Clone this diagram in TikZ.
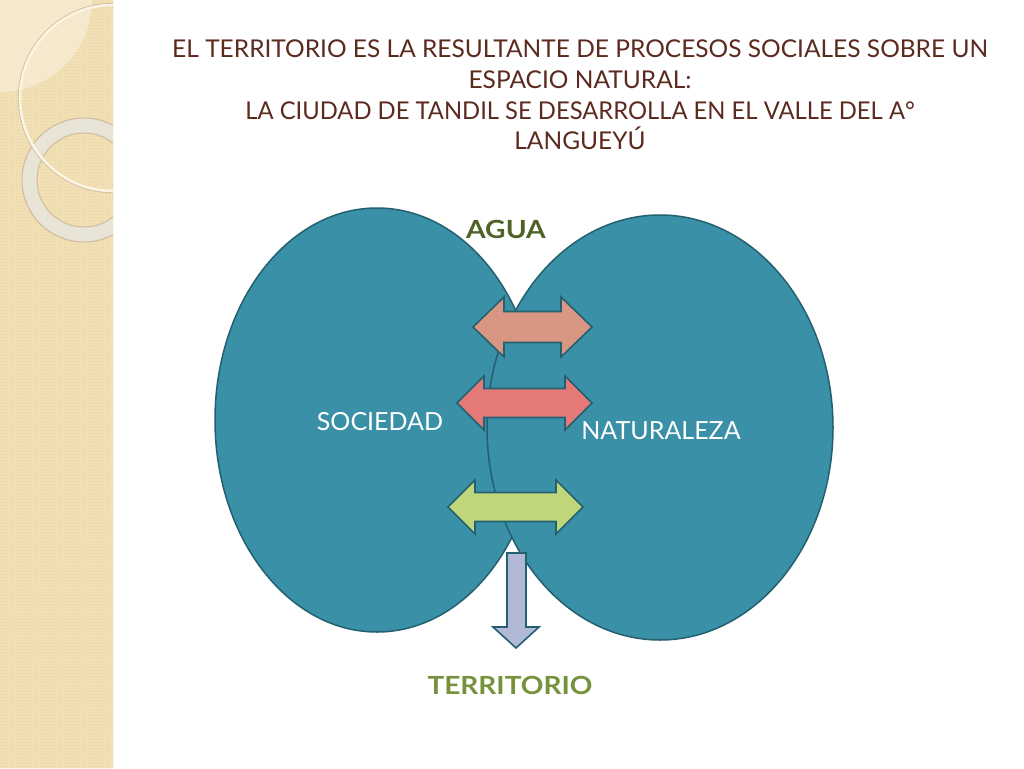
\documentclass[tikz,border=0pt]{standalone}
\usepackage{fontspec}
\setmainfont{Lato}
\usetikzlibrary{patterns}
\definecolor{band}{RGB}{244,226,184}
\definecolor{bandlight}{RGB}{248,237,214}
\definecolor{banddark}{RGB}{226,204,156}
\definecolor{ringfill}{RGB}{233,228,216}
\definecolor{ringedge}{RGB}{205,188,150}
\definecolor{tealfill}{RGB}{58,144,166}
\definecolor{tealline}{RGB}{36,96,112}
\definecolor{arrowA}{RGB}{217,151,131}
\definecolor{arrowB}{RGB}{228,121,119}
\definecolor{arrowC}{RGB}{191,215,122}
\definecolor{arrowD}{RGB}{177,185,214}
\definecolor{titlecol}{RGB}{92,42,30}
\definecolor{aguacol}{RGB}{79,98,40}
\definecolor{terrcol}{RGB}{118,146,60}
\tikzset{
  blob/.style={fill=tealfill, draw=tealline, line width=1.5pt},
  blockarrow/.style={draw=tealline, line width=1.6pt, line join=miter},
  titletext/.style={text=titlecol, font=\fontsize{24.5}{28}\selectfont, anchor=base, inner sep=0pt},
  whitelabel/.style={text=white, font=\fontsize{25}{28}\selectfont, anchor=base, inner sep=0pt},
  greenlabel/.style={font=\bfseries\fontsize{25}{28}\selectfont, anchor=base, inner sep=0pt}
}
\begin{document}
\begin{tikzpicture}[x=1pt,y=-1pt]
\useasboundingbox (0,0) rectangle (1024,768);
\fill[white] (0,0) rectangle (1024,768);
% left decorative band
\begin{scope}
  \clip (0,0) rectangle (113,768);
  \fill[band] (0,0) rectangle (113,768);
  \fill[pattern=crosshatch dots, pattern color=banddark] (0,0) rectangle (113,768);
  \fill[bandlight, opacity=0.75] (0,0) circle[radius=92];
  \fill[ringfill, even odd rule] (84,180) circle[radius=62] (84,180) circle[radius=47];
  \draw[ringedge, line width=1pt] (84,180) circle[radius=62];
  \draw[ringedge, line width=1pt] (84,180) circle[radius=47];
  \draw[ringedge, line width=1.2pt] (113,98) circle[radius=94.5];
  \draw[white!60!band, line width=2.6pt] (113,98) circle[radius=93];
\end{scope}
\draw[white!70!band, line width=1.5pt] (113.5,0) -- (113.5,768);
% two ellipses
\path[blob] (377,420) ellipse[x radius=162, y radius=212];
\path[blob] (660,427.5) ellipse[x radius=173, y radius=212.5];
% double arrows
\path[blockarrow, fill=arrowA] (473,327) -- (504,297) -- (504,311.5) -- (561,311.5) -- (561,297) -- (592,327) -- (561,357) -- (561,342.5) -- (504,342.5) -- (504,357) -- cycle;
\path[blockarrow, fill=arrowB] (457,403) -- (484,376) -- (484,388.5) -- (565,388.5) -- (565,376) -- (592,403) -- (565,430) -- (565,417.5) -- (484,417.5) -- (484,430) -- cycle;
\path[blockarrow, fill=arrowC] (448,507) -- (475,480) -- (475,492.5) -- (556,492.5) -- (556,480) -- (583,507) -- (556,534) -- (556,521.5) -- (475,521.5) -- (475,534) -- cycle;
% down arrow
\path[blockarrow, fill=arrowD] (507,553) -- (526,553) -- (526,627) -- (539,627) -- (516,648) -- (493,627) -- (507,627) -- cycle;
% title
\node[titletext] (t1) at (580,58) {EL TERRITORIO ES LA RESULTANTE DE PROCESOS SOCIALES SOBRE UN};
\node[titletext] (t2) at (580,88) {ESPACIO NATURAL:};
\node[titletext] (t3) at (580,119) {\scalebox{0.97}[1]{LA CIUDAD DE TANDIL SE DESARROLLA EN EL VALLE DEL A°}};
\node[titletext] (t4) at (580,149) {LANGUEYÚ};
% labels
\node[greenlabel, text=aguacol] (agua) at (506,238) {\scalebox{1.13}[1]{AGUA}};
\node[whitelabel] (soc) at (380,430) {SOCIEDAD};
\node[whitelabel] (nat) at (661,439) {NATURALEZA};
\node[greenlabel, text=terrcol] (terr) at (510,694) {\scalebox{1.12}[1]{TERRITORIO}};
\end{tikzpicture}
\end{document}
